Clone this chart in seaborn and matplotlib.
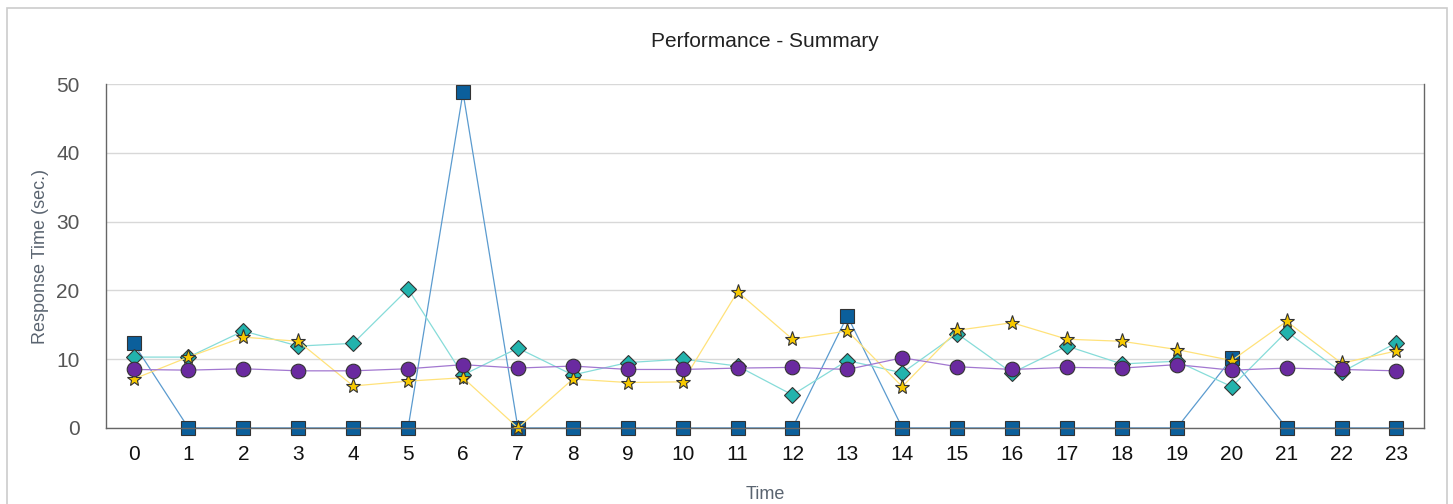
import matplotlib
matplotlib.use("Agg")
import matplotlib.pyplot as plt
import seaborn as sns
from matplotlib.patches import Rectangle

hours = list(range(24))

squares = [12.3, 0, 0, 0, 0, 0, 48.8, 0, 0, 0, 0, 0, 0, 16.3,
           0, 0, 0, 0, 0, 0, 10.1, 0, 0, 0]
diamonds = [10.3, 10.3, 14.1, 11.9, 12.3, 20.2, 7.7, 11.6, 7.7, 9.5, 10.0, 9.0,
            4.8, 9.8, 8.0, 13.7, 8.0, 11.9, 9.3, 9.7, 6.0, 14.0, 8.1, 12.4]
stars = [7.1, 10.3, 13.2, 12.6, 6.1, 6.8, 7.3, 0, 7.1, 6.6, 6.7, 19.8,
         12.9, 14.1, 6.0, 14.2, 15.3, 12.9, 12.6, 11.4, 9.8, 15.5, 9.4, 11.2]
circles = [8.5, 8.4, 8.6, 8.3, 8.3, 8.6, 9.2, 8.7, 9.0, 8.5, 8.5, 8.7,
           8.8, 8.5, 10.2, 8.9, 8.5, 8.8, 8.7, 9.2, 8.4, 8.7, 8.5, 8.3]

sns.set_style("white")
plt.rcParams['font.family'] = ['Liberation Sans', 'DejaVu Sans']

fig = plt.figure(figsize=(14.53, 5.04), dpi=100)
ax = fig.add_axes([0.073, 0.151, 0.907, 0.682])

# outer frame of the chart
fig.patches.append(Rectangle((7 / 1453, -0.05), 1440 / 1453, 1 - 8 / 504 + 0.05,
                             transform=fig.transFigure, fill=False,
                             edgecolor='#cccccc', linewidth=1.2))

series = [
    (squares, 's', 10.5, '#0b5f9b', '#5b9bcf'),
    (diamonds, 'D', 8, '#22b3ad', '#86dcd9'),
    (stars, '*', 11, '#f7c900', '#ffe27a'),
    (circles, 'o', 10.5, '#6a2aa0', '#a277d0'),
]
for vals, mk, ms, face, line in series:
    sns.lineplot(x=hours, y=vals, ax=ax, color=line, linewidth=0.9,
                 marker=mk, markersize=ms, markerfacecolor=face,
                 markeredgecolor='#333333', markeredgewidth=0.8, clip_on=False)

ax.set_xlim(-0.5, 23.5)
ax.set_ylim(0, 50)
ax.set_xticks(hours)
ax.set_yticks([0, 10, 20, 30, 40, 50])
ax.grid(axis='y', color='#d8d8d8', linewidth=1)
ax.set_axisbelow(True)
ax.tick_params(axis='x', length=0, labelsize=15, labelcolor='#111111', pad=12)
ax.tick_params(axis='y', length=13, color='#d8d8d8', width=1,
               labelsize=15, labelcolor='#555555', pad=6)

for side in ['left', 'bottom', 'right']:
    ax.spines[side].set_color('#666666')
    ax.spines[side].set_linewidth(1)
ax.spines['top'].set_visible(False)

ax.set_title('Performance - Summary', fontsize=15, color='#222222', pad=27)
ax.set_xlabel('Time', fontsize=13, color='#5a6470', labelpad=16)
ax.set_ylabel('Response Time (sec.)', fontsize=13, color='#5a6470', labelpad=5)

plt.savefig('out.png', dpi=100)
plt.close()
